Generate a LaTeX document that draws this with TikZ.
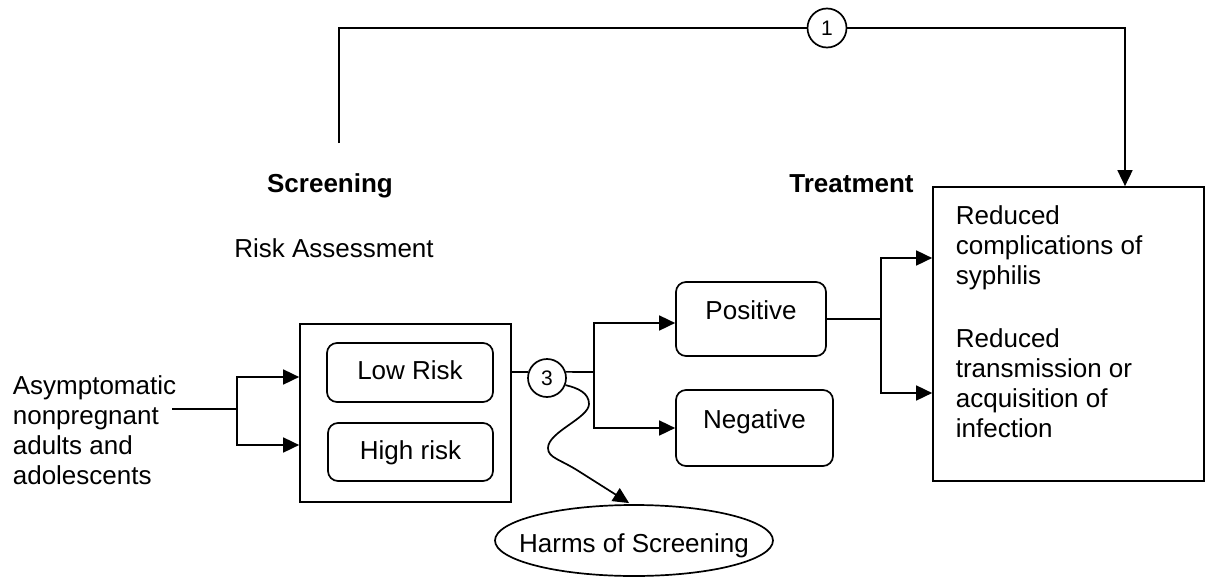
\documentclass[tikz,border=0pt]{standalone}
\usepackage{fontspec}
\setmainfont{Liberation Sans}
\usetikzlibrary{arrows.meta,shapes.geometric}

\begin{document}
\begin{tikzpicture}[
      x=1pt, y=-1pt,
      line width=1.7pt,
      every node/.style={font=\fontsize{26}{30}\selectfont},
      flow/.style={-{Triangle[length=16pt,width=15pt]}},
      groupbox/.style={draw, minimum width=211pt, minimum height=178pt, inner sep=0pt},
      riskcell/.style={draw, rounded corners=10pt, inner sep=0pt, minimum height=59pt, text height=19pt, text depth=5pt},
      resultbox/.style={draw, rounded corners=10pt, inner sep=0pt, text height=19pt, text depth=19pt},
      kq/.style={draw, circle, minimum size=39pt, inner sep=0pt, font=\fontsize{21}{24}\selectfont},
      harmsell/.style={draw, ellipse, minimum width=278pt, minimum height=71pt, inner sep=0pt},
      heading/.style={anchor=base, font=\fontsize{26}{30}\selectfont\bfseries},
      plaintext/.style={align=left, inner sep=0pt, anchor=north west}
    ]

    \useasboundingbox (0,0) rectangle (1205,578);

    % population and risk groups
    \node[plaintext] (pop) at (12,374.5) {Asymptomatic\\nonpregnant\\adults and\\adolescents};
    \node[groupbox] (group) at (405.5,413) {};
    \node[riskcell, minimum width=166pt] (low) at (410,372.5) {Low Risk};
    \node[riskcell, minimum width=165pt, minimum height=58pt] (high) at (410.5,452) {High risk};

    % headings
    \node[heading] (screening) at (330,192) {Screening};
    \node[anchor=base] (riskhead) at (334,257) {Risk Assessment};
    \node[heading] (treatment) at (851.5,192) {Treatment};

    % key questions
    \node[kq] (kq1) at (827,28) {1};
    \node[kq, minimum size=38pt] (kq3) at (547,378) {3};

    % results
    \node[resultbox, minimum width=150pt, minimum height=74pt] (pos) at (751,319) {Positive};
    \node[resultbox, minimum width=157pt, minimum height=76pt] (neg) at (754.5,428) {Negative};

    % outcomes
    \node[draw, minimum width=271pt, minimum height=294pt, inner sep=0pt] (outcome) at (1068.5,334) {};
    \node[plaintext] (outtext) at (955,204.4) {Reduced\\complications of\\syphilis\\[33pt]Reduced\\transmission or\\acquisition of\\infection};

    \node[harmsell, label={[yshift=-5pt]center:Harms of Screening}] (harms) at (634,540.5) {};

    \coordinate (popend) at (172,409);
    \coordinate (split1) at (237,409);
    \coordinate (split2) at (594,372);
    \coordinate (split3) at (881,319);
    \coordinate (topstart) at (339,143);

    % connectors
    \draw (popend) -- (split1);
    \draw[flow] (split1) |- ([yshift=36pt]group.west);
    \draw[flow] (split1) |- ([yshift=-32pt]group.west);
    \draw (group.east |- kq3.162) -- (kq3.162);
    \draw (kq3.18) -- (split2);
    \draw[flow] (split2) |- ([yshift=-4pt]pos.west);
    \draw[flow] (split2) |- (neg.west);
    \draw (pos.east) -- (split3);
    \draw[flow] (split3) |- ([yshift=76pt]outcome.west);
    \draw[flow] (split3) |- ([yshift=-59pt]outcome.west);
    \draw (topstart) |- (kq1);
    \draw[flow] (kq1) -| ([xshift=56.5pt]outcome.north);
    \draw[flow, shorten >=2pt] (kq3.-21) .. controls (578,388) and (589,393) .. (589,404)
      .. controls (589,418) and (548,432) .. (548,448)
      .. controls (548,458) and (560,459) .. (580,472) -- (harms.95);

\end{tikzpicture}
\end{document}
